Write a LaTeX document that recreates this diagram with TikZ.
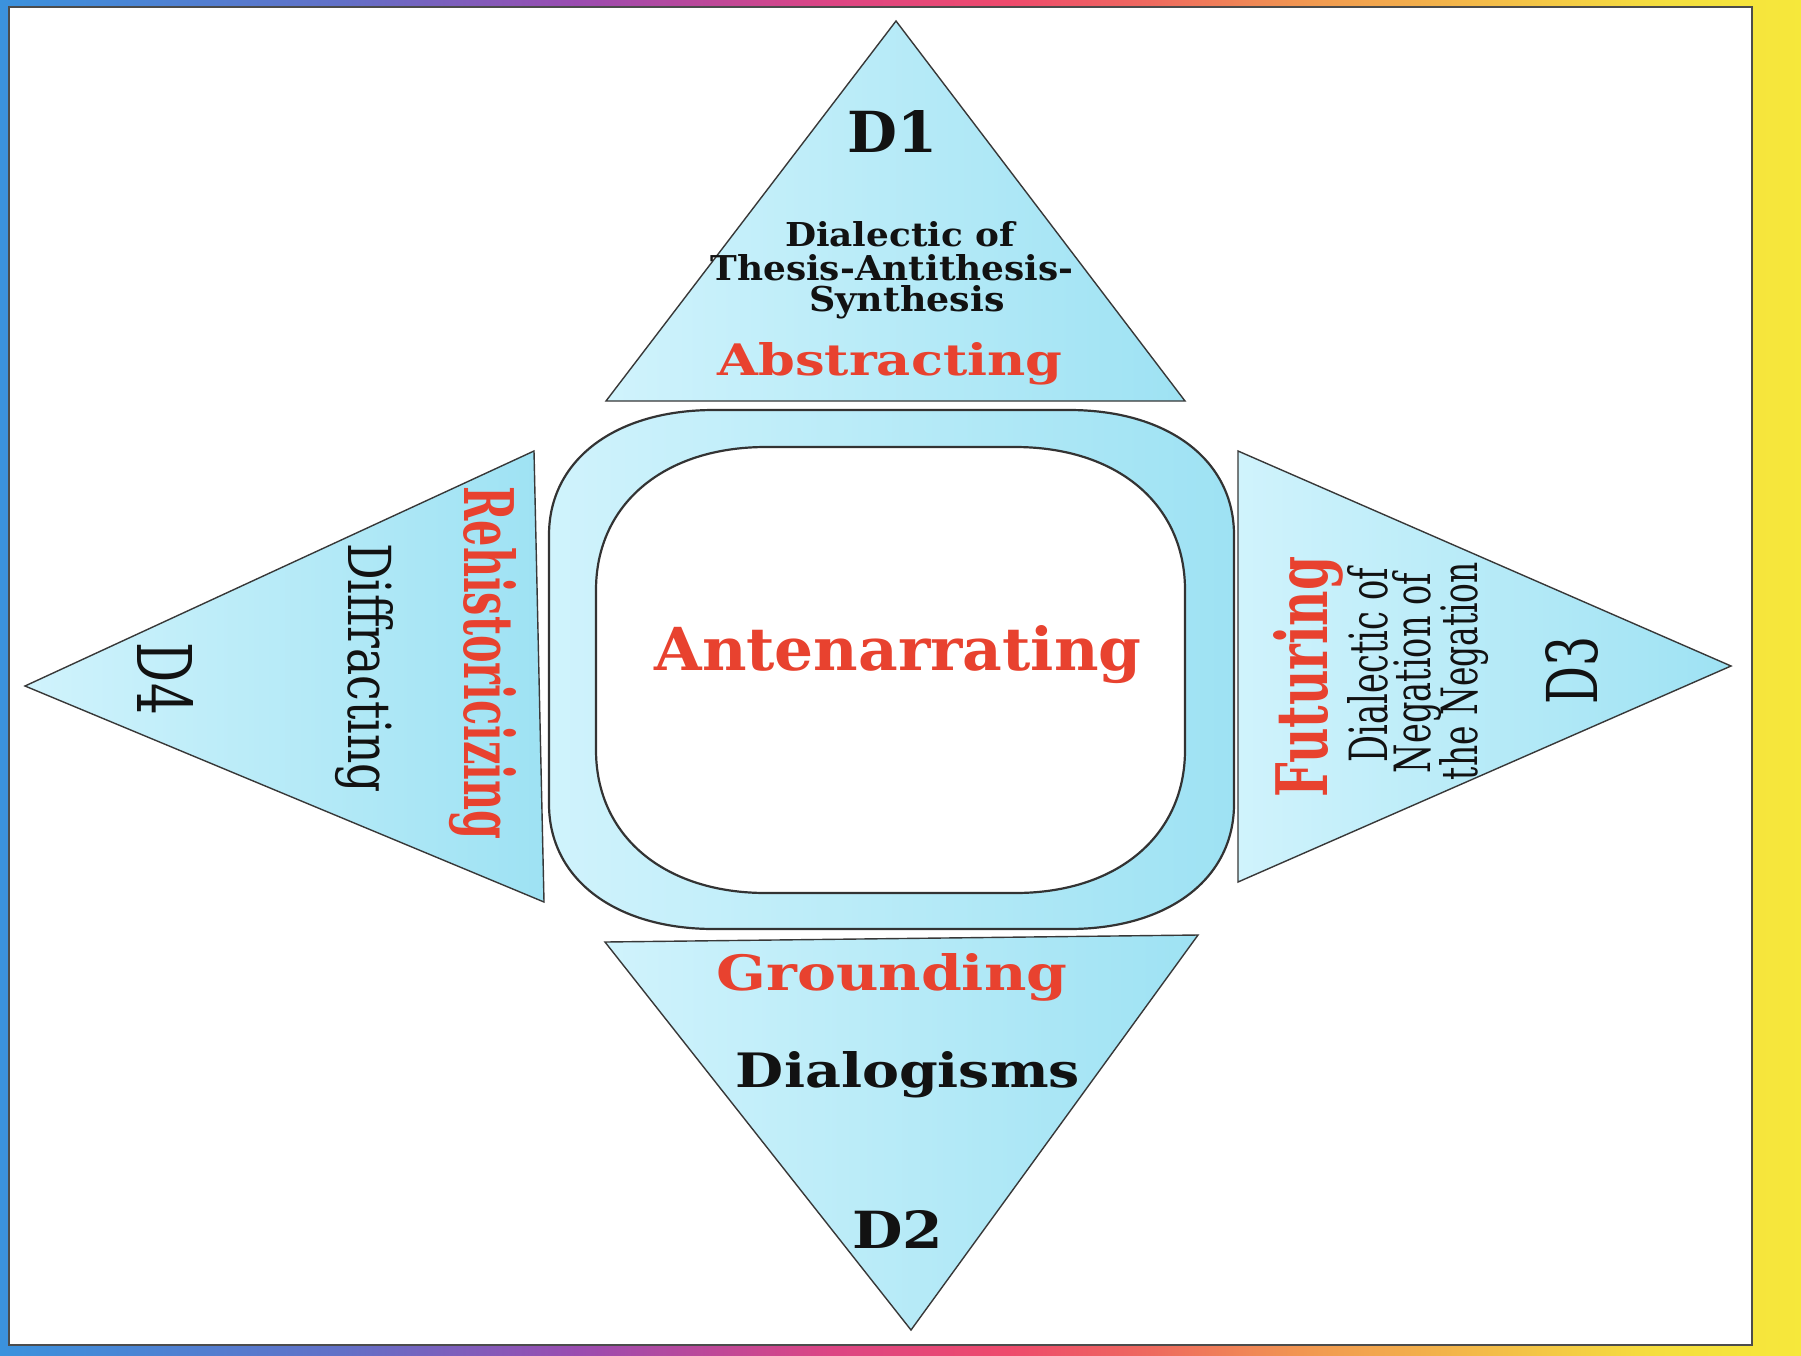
\documentclass[tikz,border=0pt]{standalone}
\usepackage{fontspec}
\setmainfont{DejaVu Serif}
\usepackage{graphicx}
\definecolor{cyL}{RGB}{208,243,252}
\definecolor{cyD}{RGB}{158,226,243}
\definecolor{redT}{RGB}{232,66,47}
\definecolor{inkT}{RGB}{18,18,18}
\definecolor{rbA}{RGB}{59,146,221}
\definecolor{rbB}{RGB}{98,112,199}
\definecolor{rbC}{RGB}{154,76,176}
\definecolor{rbD}{RGB}{220,69,132}
\definecolor{rbE}{RGB}{238,74,108}
\definecolor{rbF}{RGB}{238,106,94}
\definecolor{rbG}{RGB}{241,154,80}
\definecolor{rbH}{RGB}{243,189,72}
\definecolor{rbI}{RGB}{245,222,62}
\definecolor{rbJ}{RGB}{246,232,59}
\pgfdeclarehorizontalshading{rainbowframe}{100bp}{color(0bp)=(rbA); color(25bp)=(rbA); color(34.5bp)=(rbB); color(41bp)=(rbC); color(48bp)=(rbD); color(53bp)=(rbE); color(57bp)=(rbF); color(61.5bp)=(rbG); color(66.5bp)=(rbH); color(71bp)=(rbI); color(75bp)=(rbJ); color(100bp)=(rbJ)}
\newcommand{\fb}[3]{\resizebox{#1pt}{#2pt}{#3}}
\begin{document}
\begin{tikzpicture}[x=1pt,y=-1pt,
  every node/.style={inner sep=0pt, outer sep=0pt},
  tri/.style={draw=black!78, line width=1.4pt, left color=cyL, right color=cyD},
  ringstyle/.style={draw=black!80, line width=2.2pt, left color=cyL, right color=cyD, even odd rule},
  lblR/.style={text=redT, anchor=base},
  lblK/.style={text=inkT, anchor=base}]
\useasboundingbox (0,0) rectangle (1801,1355);
% frame
\shade[shading=rainbowframe] (0,0) rectangle (1801,1355);
\draw[fill=white, draw=black!70, line width=2pt] (9,7) rectangle (1752,1345);
% triangles
\path[tri] (896,21) -- (1185,401) -- (606,401) -- cycle;
\path[tri] (1238,451) -- (1731,666) -- (1238,882) -- cycle;
\path[tri] (25,686) -- (534,451) -- (544,902) -- cycle;
\path[tri] (605,942) -- (1198,935) -- (911,1330) -- cycle;
% ring
\path[ringstyle]
 (714,410) -- (1069,410) .. controls (1168,410) and (1234,460) .. (1234,535) -- (1234,804) .. controls (1234,879) and (1168,929) .. (1069,929) -- (714,929) .. controls (615,929) and (549,879) .. (549,804) -- (549,535) .. controls (549,460) and (615,410) .. (714,410) -- cycle
 (766,447) -- (1015,447) .. controls (1117,447) and (1185,504) .. (1185,590) -- (1185,750) .. controls (1185,836) and (1117,893) .. (1015,893) -- (766,893) .. controls (664,893) and (596,836) .. (596,750) -- (596,590) .. controls (596,504) and (664,447) .. (766,447) -- cycle;
% top triangle texts
\node[lblK] (dA) at (893,152) {\fb{90}{42}{\bfseries D1}};
\node[lblK] (dAa) at (900,246) {\fb{230}{25}{\bfseries Dialectic of}};
\node[lblK] (dAb) at (892,280) {\fb{363}{26}{\bfseries Thesis-Antithesis-}};
\node[lblK] (dAc) at (907,311) {\fb{195}{26}{\bfseries Synthesis}};
\node[lblR] (abs) at (890,375) {\fb{345}{33}{\bfseries Abstracting}};
% centre
\node[lblR] (ante) at (898,670) {\fb{487}{45}{\bfseries Antenarrating}};
% bottom triangle texts
\node[lblR] (grd) at (892,990) {\fb{351}{37}{\bfseries Grounding}};
\node[lblK] (dlg) at (908,1087) {\fb{344}{36}{\bfseries Dialogisms}};
\node[lblK] (dB) at (898,1248) {\fb{91}{38}{\bfseries D2}};
% right triangle texts
\node[lblR, rotate=90] (fut) at (1327,677) {\fb{241}{54}{\bfseries Futuring}};
\node[lblK, rotate=90] (nA) at (1387,665) {\fb{194}{40}{Dialectic of}};
\node[lblK, rotate=90] (nB) at (1430,673) {\fb{200}{38}{Negation of}};
\node[lblK, rotate=90] (nC) at (1477,671) {\fb{218}{38}{the Negation}};
\node[lblK, rotate=90] (dC) at (1597,670) {\fb{68}{52}{D3}};
% left triangle texts
\node[lblR, rotate=-90] (reh) at (464,663) {\fb{353}{52}{\bfseries Rehistoricizing}};
\node[lblK, rotate=-90] (dif) at (348,668) {\fb{250}{45}{Diffracting}};
\node[lblK, rotate=-90] (dD) at (137,679) {\fb{72}{56}{D4}};
\end{tikzpicture}
\end{document}
